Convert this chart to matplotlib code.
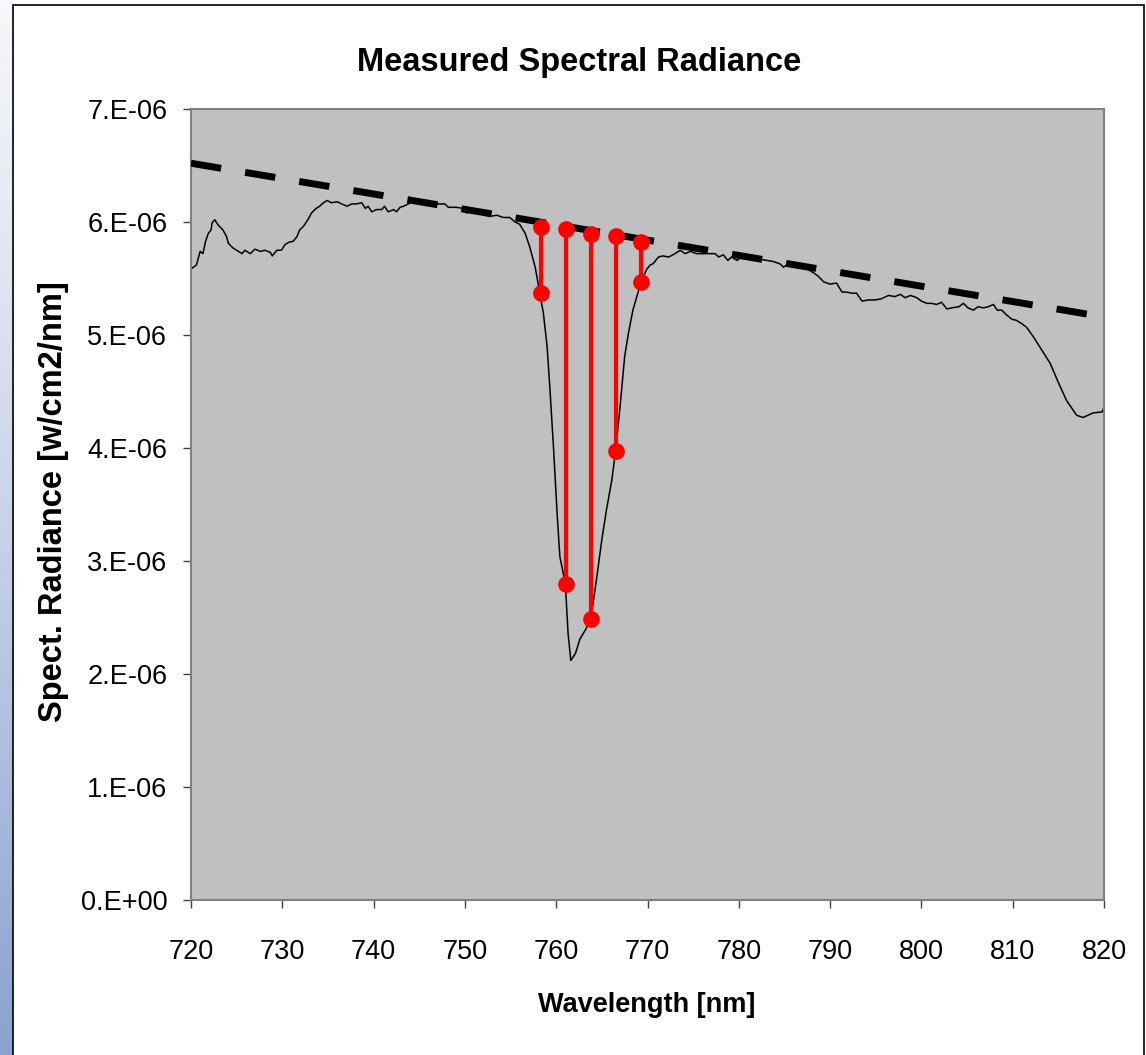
import matplotlib
matplotlib.use("Agg")
import matplotlib.pyplot as plt
from matplotlib.patches import Rectangle
from matplotlib.colors import LinearSegmentedColormap
import numpy as np

# measured spectrum, wavelength [nm] and radiance [1e-6 w/cm2/nm]
wl = [720.1, 720.6, 721.0, 721.3, 721.6, 721.9, 722.2, 722.3, 722.6, 723.0, 723.5, 723.9, 724.1,
      724.6, 725.2, 725.6, 725.9, 726.5, 727.0, 727.6, 728.1, 728.7, 728.9, 729.4, 729.9, 730.3,
      730.7, 731.2, 731.6, 731.9, 732.3, 732.8, 733.2, 733.7, 734.1, 734.5, 734.9, 735.4, 736.0,
      736.5, 737.1, 737.6, 738.1, 738.7, 739.1, 739.4, 739.8, 740.3, 740.9, 741.2, 741.6, 742.2,
      742.5, 742.9, 743.3, 743.8, 744.3, 744.9, 745.4, 746.2, 746.9, 747.8, 748.2, 749.1, 749.8,
      750.2, 750.7, 751.3, 752.0, 752.7, 753.5, 754.2, 754.9, 755.5, 756.0, 756.6, 757.1, 757.7,
      758.2, 758.6, 759.0, 759.3, 759.7, 760.1, 760.4, 761.0, 761.3, 761.6, 762.1, 762.6, 763.2,
      763.8, 764.4, 765.0, 765.5, 766.1, 766.5, 767.0, 767.5, 767.9, 768.4, 769.3, 769.9, 770.3,
      770.6, 771.2, 771.7, 772.3, 772.8, 773.6, 774.1, 774.7, 775.4, 776.1, 776.8, 777.4, 777.8,
      778.3, 778.8, 779.2, 779.8, 780.3, 780.9, 781.6, 782.3, 783.1, 783.8, 784.5, 784.9, 785.4,
      786.0, 786.5, 787.1, 787.6, 788.2, 788.7, 789.3, 790.0, 790.7, 791.3, 791.8, 792.4, 792.9,
      793.5, 794.2, 794.9, 795.6, 796.4, 797.1, 797.7, 798.2, 798.8, 799.5, 800.0, 800.6, 801.1,
      801.7, 802.2, 802.8, 803.3, 804.1, 804.6, 805.1, 805.7, 806.2, 806.8, 807.3, 807.9, 808.3,
      808.8, 809.3, 809.9, 810.4, 811.0, 811.5, 812.3, 813.0, 814.1, 815.0, 815.9, 817.0, 817.7,
      818.8, 819.8, 820.0]
rad = [5.59, 5.62, 5.74, 5.72, 5.83, 5.90, 5.93, 5.99, 6.02, 5.97, 5.93, 5.87, 5.81,
       5.77, 5.74, 5.72, 5.75, 5.72, 5.76, 5.74, 5.75, 5.73, 5.70, 5.75, 5.75, 5.80,
       5.82, 5.83, 5.87, 5.93, 5.96, 6.02, 6.08, 6.12, 6.14, 6.17, 6.19, 6.17, 6.18,
       6.16, 6.14, 6.16, 6.16, 6.17, 6.12, 6.14, 6.09, 6.11, 6.11, 6.14, 6.09, 6.11,
       6.09, 6.13, 6.14, 6.16, 6.19, 6.17, 6.16, 6.15, 6.16, 6.16, 6.13, 6.13, 6.12,
       6.08, 6.10, 6.08, 6.07, 6.05, 6.06, 6.04, 6.04, 6.00, 5.98, 5.90, 5.78, 5.60,
       5.37, 5.19, 4.90, 4.54, 4.01, 3.42, 3.04, 2.80, 2.36, 2.12, 2.18, 2.31, 2.39,
       2.49, 2.83, 3.19, 3.45, 3.72, 3.97, 4.37, 4.81, 5.01, 5.22, 5.47, 5.58, 5.62,
       5.63, 5.69, 5.70, 5.69, 5.71, 5.75, 5.72, 5.74, 5.72, 5.72, 5.72, 5.72, 5.69,
       5.71, 5.66, 5.69, 5.66, 5.69, 5.68, 5.69, 5.67, 5.66, 5.65, 5.63, 5.60, 5.63,
       5.63, 5.60, 5.60, 5.58, 5.55, 5.52, 5.47, 5.45, 5.46, 5.38, 5.38, 5.37, 5.37,
       5.30, 5.31, 5.31, 5.32, 5.35, 5.34, 5.36, 5.33, 5.35, 5.33, 5.30, 5.28, 5.28,
       5.27, 5.29, 5.23, 5.24, 5.25, 5.28, 5.24, 5.22, 5.25, 5.24, 5.25, 5.27, 5.22,
       5.22, 5.18, 5.14, 5.13, 5.10, 5.07, 4.98, 4.89, 4.75, 4.58, 4.42, 4.29, 4.27,
       4.31, 4.32, 4.36]

# continuum (dashed) line end points
cont_wl = [720, 820]
cont_rad = [6.52, 5.16]

# absorption depth markers
abs_wl = [758.3, 761.1, 763.8, 766.6, 769.3]
abs_top = [5.96, 5.94, 5.89, 5.88, 5.82]
abs_bot = [5.37, 2.80, 2.49, 3.97, 5.47]

xticks = [720, 730, 740, 750, 760, 770, 780, 790, 800, 810, 820]
yticks = [0, 1, 2, 3, 4, 5, 6, 7]
ylabels = ["0.E+00", "1.E-06", "2.E-06", "3.E-06", "4.E-06", "5.E-06", "6.E-06", "7.E-06"]

plt.rcParams["font.family"] = ["Liberation Sans", "DejaVu Sans"]

W, H = 1146, 1055
fig = plt.figure(figsize=(W / 100, H / 100), dpi=100)
fig.patch.set_facecolor("white")

# blue slide strip on the left
strip = fig.add_axes([0, 0, 13 / W, 1])
grad = np.linspace(0, 1, 256).reshape(-1, 1)
cm = LinearSegmentedColormap.from_list("s", ["#8aa2cf", "#c9d3e8", "#f7f8fb"])
strip.imshow(grad, aspect="auto", cmap=cm, origin="lower", extent=[0, 1, 0, 1])
strip.axis("off")

# chart border
fig.patches.append(Rectangle((13 / W, -0.01), (1144 - 13) / W, (H - 5) / H + 0.01,
                             transform=fig.transFigure, facecolor="none",
                             edgecolor="black", linewidth=1.2))

ax = fig.add_axes([191 / W, 1 - 900 / H, (1104 - 191) / W, (900 - 109) / H])
ax.set_facecolor("#c0c0c0")

ax.plot(wl, rad, color="black", linewidth=1.1, zorder=2)
ax.plot(cont_wl, cont_rad, color="black", linewidth=5, dashes=(4.4, 3.5),
        solid_capstyle="butt", dash_capstyle="butt", zorder=3)
ax.vlines(abs_wl, abs_bot, abs_top, color="#ff0000", linewidth=3, zorder=4)
ax.plot(abs_wl, abs_top, "o", color="#ff0000", markersize=11, zorder=5)
ax.plot(abs_wl, abs_bot, "o", color="#ff0000", markersize=11, zorder=5)

ax.set_xlim(720, 820)
ax.set_ylim(0, 7)
ax.set_xticks(xticks)
ax.set_xticklabels([str(t) for t in xticks])
ax.set_yticks(yticks)
ax.set_yticklabels(ylabels)
ax.tick_params(axis="both", direction="out", length=6, width=1, colors="#404040",
               labelcolor="black", labelsize=19.5)
ax.tick_params(axis="x", pad=22)
ax.tick_params(axis="y", pad=11)
for s in ax.spines.values():
    s.set_color("#808080")
    s.set_linewidth(1.5)

fig.text(579 / W, 1 - 62 / H, "Measured Spectral Radiance", ha="center", va="center",
         fontsize=23.5, fontweight="bold")
fig.text(647 / W, 1 - 1005 / H, "Wavelength [nm]", ha="center", va="center",
         fontsize=19.5, fontweight="bold")
fig.text(54 / W, 1 - 502 / H, "Spect. Radiance [w/cm2/nm]", ha="center", va="center",
         rotation=90, fontsize=23.5, fontweight="bold")

fig.savefig("out.png", dpi=100)
